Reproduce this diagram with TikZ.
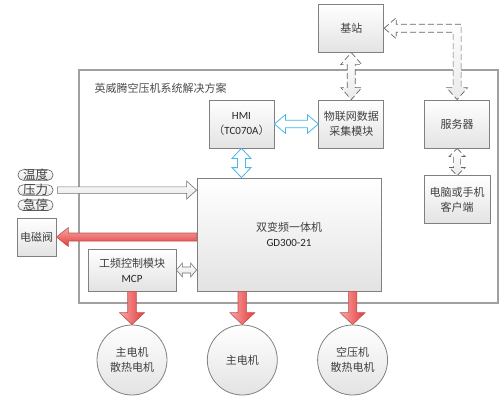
\documentclass[tikz,border=0pt]{standalone}
\usepackage{fontspec}
\setmainfont{Carlito}
\newfontfamily\cjk{Noto Sans CJK SC}
\usetikzlibrary{calc,positioning}
\definecolor{boxline}{HTML}{808080}
\definecolor{framegray}{HTML}{A0A0A0}
\definecolor{txt}{HTML}{404040}
\definecolor{skyline}{HTML}{45B8E8}
\definecolor{redline}{HTML}{C0504D}
\definecolor{redlight}{HTML}{F6A8A8}
\definecolor{reddark}{HTML}{E53A3A}
\newcommand{\latn}[1]{{\rmfamily\color{black!85}#1}}
% fat arrow, one head: style, from, to, shaft half width, head half width, head length
\newcommand{\onearrow}[6]{%
  \coordinate (hb) at ($(#3)!#6!(#2)$);
  \path[#1] ($(#2)!#4!90:(#3)$) -- ($(hb)!#4!90:(#3)$) -- ($(hb)!#5!90:(#3)$) -- (#3)
    -- ($(hb)!#5!-90:(#3)$) -- ($(hb)!#4!-90:(#3)$) -- ($(#2)!#4!-90:(#3)$) -- cycle;}
% fat arrow, two heads
\newcommand{\twoarrow}[6]{%
  \coordinate (ha) at ($(#2)!#6!(#3)$);
  \coordinate (hb) at ($(#3)!#6!(#2)$);
  \path[#1] (#2) -- ($(ha)!#5!90:(#3)$) -- ($(ha)!#4!90:(#3)$) -- ($(hb)!#4!90:(#3)$)
    -- ($(hb)!#5!90:(#3)$) -- (#3) -- ($(hb)!#5!-90:(#3)$) -- ($(hb)!#4!-90:(#3)$)
    -- ($(ha)!#4!-90:(#3)$) -- ($(ha)!#5!-90:(#3)$) -- cycle;}

\begin{document}
\begin{tikzpicture}[x=1pt,y=-1pt,
    main/.style = {draw=boxline, line width=0.8pt, top color=white, bottom color=black!11,
                   text=txt, align=center, minimum width=65pt, minimum height=48pt, inner sep=1pt,
                   font=\cjk\fontsize{11}{15}\selectfont},
    motor/.style = {main, circle, minimum size=70pt},
    tag/.style = {draw=black!65, line width=0.6pt, rounded corners=5pt, minimum width=35pt,
                  inner xsep=0pt, inner ysep=1pt, text height=8.5pt, text depth=0pt,
                  top color=white, bottom color=black!10, text=txt, font=\cjk\fontsize{12.5}{12}\selectfont},
    power/.style = {draw=redline, line width=0.6pt, left color=redlight, right color=reddark},
    link/.style = {draw=skyline, line width=0.8pt, fill=white},
    data/.style = {draw=black!60, line width=0.7pt, dash pattern=on 6pt off 3pt,
                   top color=white, bottom color=black!8},
    signal/.style = {draw=black!55, line width=0.6pt, top color=white, bottom color=black!10}]
    \useasboundingbox (0,0) rectangle (500,402);
    \draw[framegray, line width=1.2pt, fill=white] (79,70) rectangle (498,303);
    \node[anchor=west, text=black!70, font=\cjk\fontsize{11}{11}\selectfont] (title) at (91,88) {英威腾空压机系统解决方案};

    \node[main] (2) at (241.5,124) {\latn{HMI}\\（\latn{TC070A}）};
    \node[main] (3) [right=44pt of 2] {物联网数据\\采集模块};
    \node[main] (1) [above=47pt of 3] {基站};
    \node[main] (4) [right=40pt of 3] {服务器};
    \node[main, minimum width=66pt] (5) [below=27pt of 4] {电脑或手机\\客户端};
    \node[main, minimum width=184pt, minimum height=113pt] (6) at (289,234.5) {双变频一体机\\\latn{GD300-21}};
    \node[main, minimum width=88pt, minimum height=42pt] (7) at (132,270) {工频控制模块\\\latn{MCP}};
    \node[main, minimum width=39pt, minimum height=38pt] (8) at (36.5,237) {电磁阀};
    \node[motor] (9) at (132,360) {主电机\\散热电机};
    \node[motor] (10) [right=39.5pt of 9] {主电机};
    \node[motor] (11) [right=39.5pt of 10] {空压机\\散热电机};
    \node[tag] (t1) at (35.5,175) {温度};
    \node[tag] (t2) [below=4pt of t1] {压力};
    \node[tag] (t3) [below=4pt of t2] {急停};

    \coordinate (hmi) at (2.south |- 6.north);
    \coordinate (mcp) at (6.west |- 7.east);
    \coordinate (in) at ($(t2.east)+(4,0)$);
    \coordinate (inend) at (6.west |- t2.east);
    \coordinate (valve) at (6.west |- 8.east);
    \coordinate (out2) at (6.south -| 10.north);
    \coordinate (out3) at (6.south -| 11.north);
    \coordinate (k) at (4.north |- 1.east);

    \twoarrow{link}{2.east}{3.west}{3.7pt}{9.3pt}{11pt}
    \twoarrow{link}{2.south}{hmi}{4pt}{9.5pt}{10pt}
    \twoarrow{data}{1.south}{3.north}{4pt}{10.5pt}{12pt}
    \twoarrow{data}{4.south}{5.north}{3.5pt}{8pt}{8pt}
    \twoarrow{signal}{7.east}{mcp}{3pt}{7pt}{6pt}
    \onearrow{signal}{in}{inend}{3.3pt}{9pt}{10pt}
    \onearrow{power, top color=redlight, bottom color=reddark}{valve}{8.east}{4pt}{9.5pt}{12pt}
    \onearrow{power}{7.south}{9.north}{4.3pt}{12.5pt}{12pt}
    \onearrow{power}{out2}{10.north}{4.3pt}{12.5pt}{12pt}
    \onearrow{power}{out3}{11.north}{4.3pt}{12.5pt}{12pt}
    \path[data] (1.east) -- ($(1.east)+(12,-10.5)$) -- ($(1.east)+(12,-4)$) -- ($(k)+(4,-4)$)
        -- ($(4.north)+(4,-12)$) -- ($(4.north)+(10.5,-12)$) -- (4.north)
        -- ($(4.north)+(-10.5,-12)$) -- ($(4.north)+(-4,-12)$) -- ($(k)+(-4,4)$)
        -- ($(1.east)+(12,4)$) -- ($(1.east)+(12,10.5)$) -- cycle;
\end{tikzpicture}
\end{document}
